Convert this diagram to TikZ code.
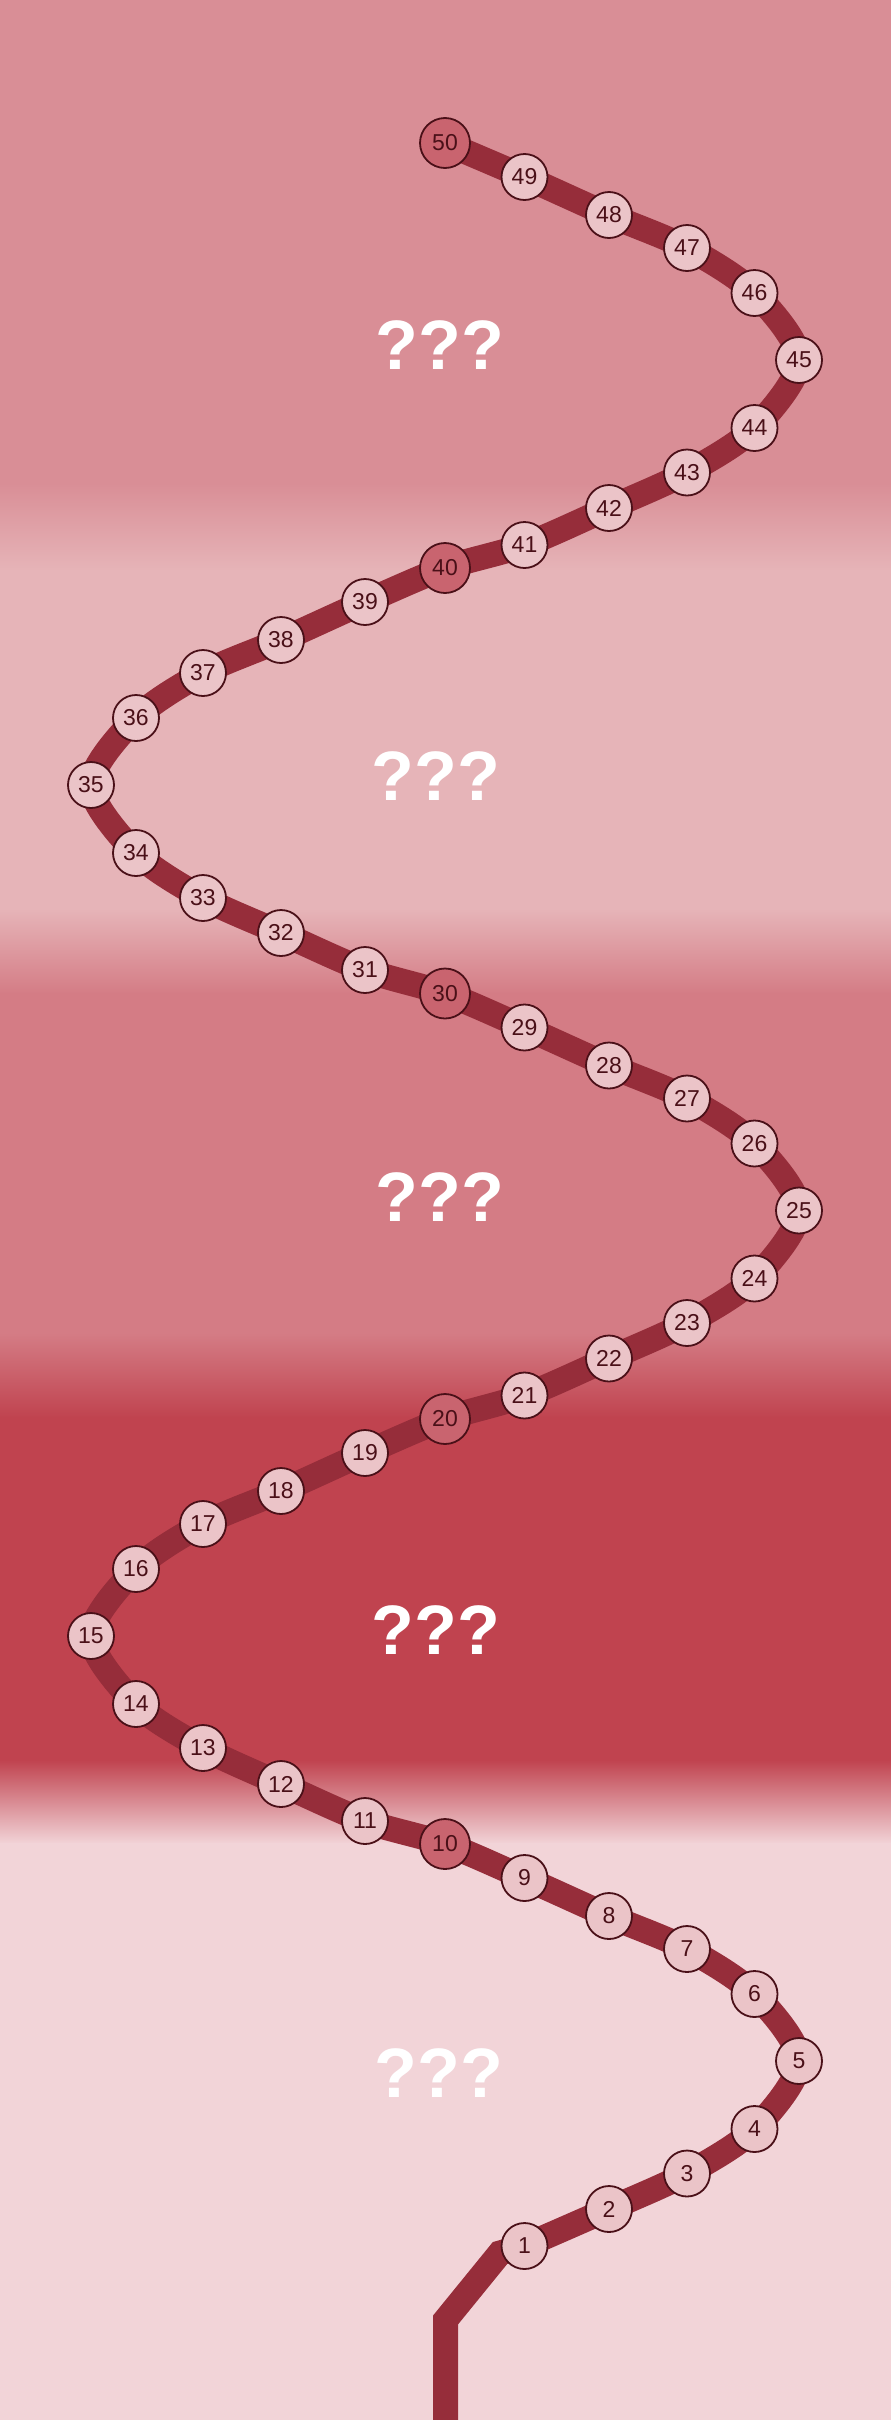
\documentclass[tikz,border=0pt]{standalone}
\usepackage{fontspec}
\setmainfont{Liberation Sans}
\definecolor{bandA}{HTML}{D98E96}
\definecolor{bandB}{HTML}{E6B4B8}
\definecolor{bandC}{HTML}{D47C85}
\definecolor{bandD}{HTML}{C0434F}
\definecolor{bandE}{HTML}{F2D4D8}
\definecolor{trackred}{HTML}{962D3A}
\definecolor{nodelight}{HTML}{EBC4C8}
\definecolor{nodedark}{HTML}{C9646F}
\definecolor{nodeline}{HTML}{4A1018}
\tikzset{
  stop/.style={circle, draw=nodeline, line width=1.8pt, fill=nodelight, minimum size=46pt, inner sep=0pt,
    text=nodeline, font=\fontsize{23}{27}\selectfont},
  bigstop/.style={stop, fill=nodedark, minimum size=50pt},
  mystery/.style={text=white, font=\fontsize{70}{80}\selectfont\bfseries, inner sep=0pt},
  track/.style={draw=trackred, line width=25pt}
}
\begin{document}
\begin{tikzpicture}[x=1pt, y=-1pt]
\useasboundingbox (0,0) rectangle (891,2420);
% background bands
\fill[bandA] (0,0) rectangle (891,484);
\shade[top color=bandA, bottom color=bandB] (0,483) rectangle (891,571);
\fill[bandB] (0,570) rectangle (891,910);
\shade[top color=bandB, bottom color=bandC] (0,909) rectangle (891,994);
\fill[bandC] (0,993) rectangle (891,1334);
\shade[top color=bandC, bottom color=bandD] (0,1333) rectangle (891,1418);
\fill[bandD] (0,1417) rectangle (891,1761);
\shade[top color=bandD, bottom color=bandE] (0,1760) rectangle (891,1844);
\fill[bandE] (0,1843) rectangle (891,2420);

% stop positions
\coordinate (p1) at (524.5,2246);
\coordinate (p2) at (609,2209);
\coordinate (p3) at (687,2173.5);
\coordinate (p4) at (754.5,2129);
\coordinate (p5) at (799,2061);
\coordinate (p6) at (754.5,1994);
\coordinate (p7) at (687,1949);
\coordinate (p8) at (609,1916);
\coordinate (p9) at (524.5,1878);
\coordinate (p10) at (445,1844);
\coordinate (p11) at (365,1821);
\coordinate (p12) at (281,1784);
\coordinate (p13) at (203,1748);
\coordinate (p14) at (136,1704);
\coordinate (p15) at (91,1636);
\coordinate (p16) at (136,1569);
\coordinate (p17) at (203,1524);
\coordinate (p18) at (281,1491);
\coordinate (p19) at (365,1453);
\coordinate (p20) at (445,1419);
\coordinate (p21) at (524.5,1395.5);
\coordinate (p22) at (609,1358.5);
\coordinate (p23) at (687,1323);
\coordinate (p24) at (754.5,1278.5);
\coordinate (p25) at (799,1210.5);
\coordinate (p26) at (754.5,1143.5);
\coordinate (p27) at (687,1098.5);
\coordinate (p28) at (609,1065.5);
\coordinate (p29) at (524.5,1027.5);
\coordinate (p30) at (445,993.5);
\coordinate (p31) at (365,970);
\coordinate (p32) at (281,933);
\coordinate (p33) at (203,898);
\coordinate (p34) at (136,853);
\coordinate (p35) at (91,785);
\coordinate (p36) at (136,718);
\coordinate (p37) at (203,673);
\coordinate (p38) at (281,640);
\coordinate (p39) at (365,602);
\coordinate (p40) at (445,568);
\coordinate (p41) at (524.5,545);
\coordinate (p42) at (609,508);
\coordinate (p43) at (687,472.5);
\coordinate (p44) at (754.5,428);
\coordinate (p45) at (799,360);
\coordinate (p46) at (754.5,293);
\coordinate (p47) at (687,248);
\coordinate (p48) at (609,215);
\coordinate (p49) at (524.5,177);
\coordinate (p50) at (445,143);

\coordinate (s0) at (445.5,2430);
\coordinate (s1) at (445.5,2320);
\coordinate (s2) at (500,2253);

% track
\draw[track, line join=miter] (s0) -- (s1) -- (s2) -- (p1);
\draw[track] plot[smooth, tension=0.5] coordinates {
 (p1) (p2) (p3) (p4) (p5) (p6) (p7) (p8) (p9) (p10)
 (p11) (p12) (p13) (p14) (p15) (p16) (p17) (p18) (p19) (p20)
 (p21) (p22) (p23) (p24) (p25) (p26) (p27) (p28) (p29) (p30)
 (p31) (p32) (p33) (p34) (p35) (p36) (p37) (p38) (p39) (p40)
 (p41) (p42) (p43) (p44) (p45) (p46) (p47) (p48) (p49) (p50)};

% stops
\foreach \i in {1,...,50} {
  \pgfmathtruncatemacro{\r}{mod(\i,10)}
  \ifnum\r=0
    \node[bigstop] (n\i) at (p\i) {\i};
  \else
    \node[stop] (n\i) at (p\i) {\i};
  \fi
}

% mystery labels
\node[mystery] (q1) at (440,345) {???};
\node[mystery] (q2) at (436,776) {???};
\node[mystery] (q3) at (440,1197.5) {???};
\node[mystery] (q4) at (436,1630) {???};
\node[mystery] (q5) at (439,2073) {???};
\end{tikzpicture}
\end{document}
